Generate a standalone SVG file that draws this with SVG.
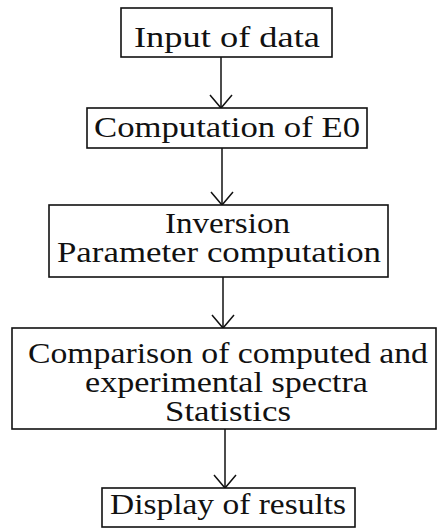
<svg xmlns="http://www.w3.org/2000/svg" width="437" height="531" viewBox="0 0 437 531">
  <style>
    .box { fill: #ffffff; stroke: #111111; stroke-width: 1.6; }
    .lbl { font-family: "Liberation Serif", "Times New Roman", serif; font-size: 29px; fill: #111111; }
    .edge { fill: none; stroke: #111111; stroke-width: 1.5; }
  </style>
  <defs>
    <!-- open V arrowhead used by every connector -->
    <marker id="vhead" markerUnits="userSpaceOnUse" markerWidth="30" markerHeight="30" viewBox="-15 -15 30 30" refX="0" refY="0" orient="auto">
      <path d="M-13,-11 L0,0 L-13,11" fill="none" stroke="#111111" stroke-width="1.5"/>
    </marker>
  </defs>
  <rect width="437" height="531" fill="#ffffff"/>

  <g id="connectors">
    <line class="edge" x1="221" y1="57" x2="221" y2="108" marker-end="url(#vhead)"/>
    <line class="edge" x1="222" y1="148" x2="222" y2="205" marker-end="url(#vhead)"/>
    <line class="edge" x1="223" y1="277" x2="223" y2="328" marker-end="url(#vhead)"/>
    <line class="edge" x1="225" y1="429" x2="225" y2="488" marker-end="url(#vhead)"/>
  </g>

  <g id="input">
    <rect class="box" x="121" y="8" width="211" height="49"/>
    <text class="lbl" x="134" y="47" textLength="186" lengthAdjust="spacingAndGlyphs">Input of data</text>
  </g>

  <g id="e0">
    <rect class="box" x="87" y="108" width="280" height="40"/>
    <text class="lbl" x="94" y="137" textLength="266" lengthAdjust="spacingAndGlyphs">Computation of E0</text>
  </g>

  <g id="inversion">
    <rect class="box" x="49" y="205" width="339" height="72"/>
    <text class="lbl" x="165" y="233" textLength="125" lengthAdjust="spacingAndGlyphs">Inversion</text>
    <text class="lbl" x="57" y="262" textLength="324" lengthAdjust="spacingAndGlyphs">Parameter computation</text>
  </g>

  <g id="comparison">
    <rect class="box" x="12" y="328" width="424" height="101"/>
    <text class="lbl" x="28" y="363" textLength="400" lengthAdjust="spacingAndGlyphs">Comparison of computed and</text>
    <text class="lbl" x="85" y="392" textLength="283" lengthAdjust="spacingAndGlyphs">experimental spectra</text>
    <text class="lbl" x="165" y="421" textLength="126" lengthAdjust="spacingAndGlyphs">Statistics</text>
  </g>

  <g id="display">
    <rect class="box" x="102" y="488" width="253" height="39"/>
    <text class="lbl" x="110" y="514" textLength="236" lengthAdjust="spacingAndGlyphs">Display of results</text>
  </g>
</svg>
